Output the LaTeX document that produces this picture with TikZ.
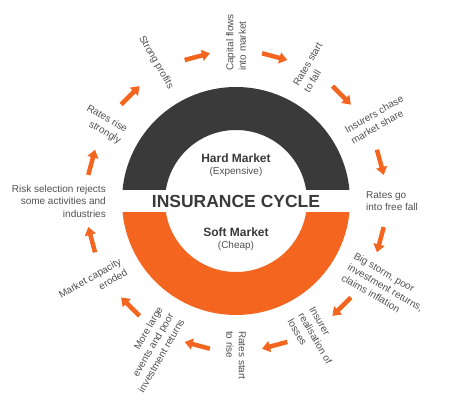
\documentclass[tikz,border=0pt]{standalone}
\usepackage{fontspec}
\setmainfont{Liberation Sans}
\usetikzlibrary{arrows.meta}
\definecolor{hardgray}{HTML}{3A3A3A}
\definecolor{softorange}{HTML}{F4661F}
\definecolor{labelgray}{HTML}{505050}

\begin{document}
\begin{tikzpicture}[x=1pt, y=1pt,
    lbl/.style={font=\fontsize{10}{12.5}\selectfont, text=labelgray, inner sep=0pt},
    cyc/.style={-{Triangle[length=8pt,width=11pt]}, line width=4.5pt, draw=softorange}]
  \useasboundingbox (-236,-200) rectangle (238,201);

  % the ring, split by a white band
  \fill[hardgray] (114,0) arc (0:180:114) -- (-71,0) arc (180:0:71) -- cycle;
  \fill[softorange] (114,0) arc (0:-180:114) -- (-71,0) arc (-180:0:71) -- cycle;
  \fill[white] (-120,-11) rectangle (120,11);

  \node[font=\fontsize{17.5}{20}\selectfont\bfseries, text=hardgray] (title) at (0,0) {INSURANCE CYCLE};
  \node[font=\fontsize{12}{14}\selectfont\bfseries, text=hardgray] (hard) at (0,43) {Hard Market};
  \node[lbl] (expensive) at (0,29) {(Expensive)};
  \node[font=\fontsize{12}{14}\selectfont\bfseries, text=hardgray] (soft) at (0,-31) {Soft Market};
  \node[lbl] (cheap) at (0,-45) {(Cheap)};

  % the stages, clockwise from the top
  \node[lbl, anchor=west, rotate=90, align=left]   (capital)   at (90:130)   {Capital flows\\into market};
  \node[lbl, anchor=west, rotate=60, align=left]   (fall)      at (60:130)   {Rates start\\to fall};
  \node[lbl, anchor=west, rotate=30, align=left]   (chase)     at (30:130)   {Insurers chase\\market share};
  \node[lbl, anchor=west, align=left]              (freefall)  at (0:130)    {Rates go\\into free fall};
  \node[lbl, anchor=west, rotate=-30, align=left]  (storm)     at (-30:130)  {Big storm, poor\\investment returns,\\claims inflation};
  \node[lbl, anchor=west, rotate=-60, align=left]  (losses)    at (-60:130)  {Insurer\\realisation of\\losses};
  \node[lbl, anchor=west, rotate=-90, align=left]  (rise)      at (-90:130)  {Rates start\\to rise};
  \node[lbl, anchor=east, rotate=60, align=right]  (events)    at (-120:130) {More large\\events and poor\\investment returns};
  \node[lbl, anchor=east, rotate=30, align=right]  (capacity)  at (-150:130) {Market capacity\\eroded};
  \node[lbl, anchor=east, align=right]             (selection) at (180:130)  {Risk selection rejects\\some activities and\\industries};
  \node[lbl, anchor=east, rotate=-30, align=right] (strongly)  at (150:130)  {Rates rise\\strongly};
  \node[lbl, anchor=east, rotate=-60, align=right] (profits)   at (120:130)  {Strong profits};

  % arrows between the stages
  \foreach \a [count=\i] in {75,45,...,-255} {
    \coordinate (s\i) at (\a+5:150);
    \coordinate (e\i) at (\a-5:150);
    \draw[cyc] (s\i) -- (e\i);
  }
\end{tikzpicture}
\end{document}
